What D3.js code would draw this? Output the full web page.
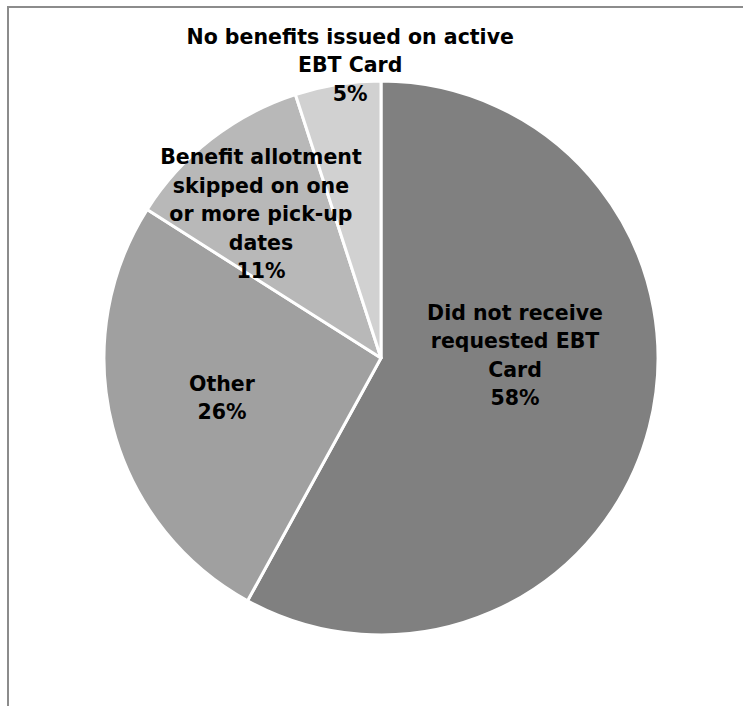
<!DOCTYPE html>
<html lang="en">
<head>
  <meta charset="UTF-8"/>
  <title>EBT issues pie</title>
  <script src="https://d3js.org/d3.v7.min.js"></script>
</head>
<body>
  <svg></svg>
</body>
<style>
body {
  margin: 0;
  background: #fff;
  font-family: 'DejaVu Sans', sans-serif;
}
svg {
  display: block;
  width: 743px;
  height: 706px;
}
text.label {
  font-size: 20.5px;
  font-weight: 700;
  fill: #000;
}
</style>
<script>
    const categories = [
      'Did not receive requested EBT Card',
      'Other',
      'Benefit allotment skipped on one or more pick-up dates',
      'No benefits issued on active EBT Card'
    ];
    const values = [58, 26, 11, 5];
    const labelLines = [
      ['Did not receive', 'requested EBT', 'Card'],
      ['Other'],
      ['Benefit allotment', 'skipped on one', 'or more pick-up', 'dates'],
      ['No benefits issued on active', 'EBT Card']
    ];
    const colors = ['#808080', '#a0a0a0', '#b8b8b8', '#d1d1d1'];

    const cx = 381, cy = 358, radius = 277;

    const svg = d3.select('svg');

    // frame (only top and left edges visible)
    svg.append('path')
      .attr('d', 'M8,706 L8,7 L743,7')
      .attr('fill', 'none')
      .attr('stroke', '#8c8c8c')
      .attr('stroke-width', 2);

    const data = categories.map((c, i) => ({ name: c, value: values[i], lines: labelLines[i], i }));

    const pie = d3.pie().sort(null).value(d => d.value);
    const arc = d3.arc().innerRadius(0).outerRadius(radius);

    const chart = svg.append('g')
      .attr('transform', `translate(${cx}, ${cy})`);

    const arcs = pie(data);

    chart.selectAll('path.slice')
      .data(arcs)
      .enter().append('path')
      .attr('class', 'slice')
      .attr('d', arc)
      .attr('fill', d => colors[d.data.i])
      .attr('stroke', '#fff')
      .attr('stroke-width', 3)
      .attr('stroke-linejoin', 'round');

    // label placement: distance from centre (fraction of radius) and angle nudge (deg)
    const labelRadius = [0.484, 0.592, 0.677, 1.064];
    const labelNudge = [-15.6, 0.3, -2, 3];
    const lineH = 28.5;

    arcs.forEach((a, k) => {
      const mid = (a.startAngle + a.endAngle) / 2 + labelNudge[k] * Math.PI / 180;
      const r = radius * labelRadius[k];
      const lx = Math.sin(mid) * r;
      const ly = -Math.cos(mid) * r;
      const lines = a.data.lines.concat([a.data.value + '%']);
      const t = chart.append('text')
        .attr('class', 'label')
        .attr('text-anchor', 'middle')
        .attr('x', lx)
        .attr('y', ly - (lines.length - 1) * lineH / 2);
      lines.forEach((ln, j) => {
        t.append('tspan')
          .attr('x', lx)
          .attr('dy', j === 0 ? '0.35em' : lineH)
          .text(ln);
      });
    });
</script>
</html>
